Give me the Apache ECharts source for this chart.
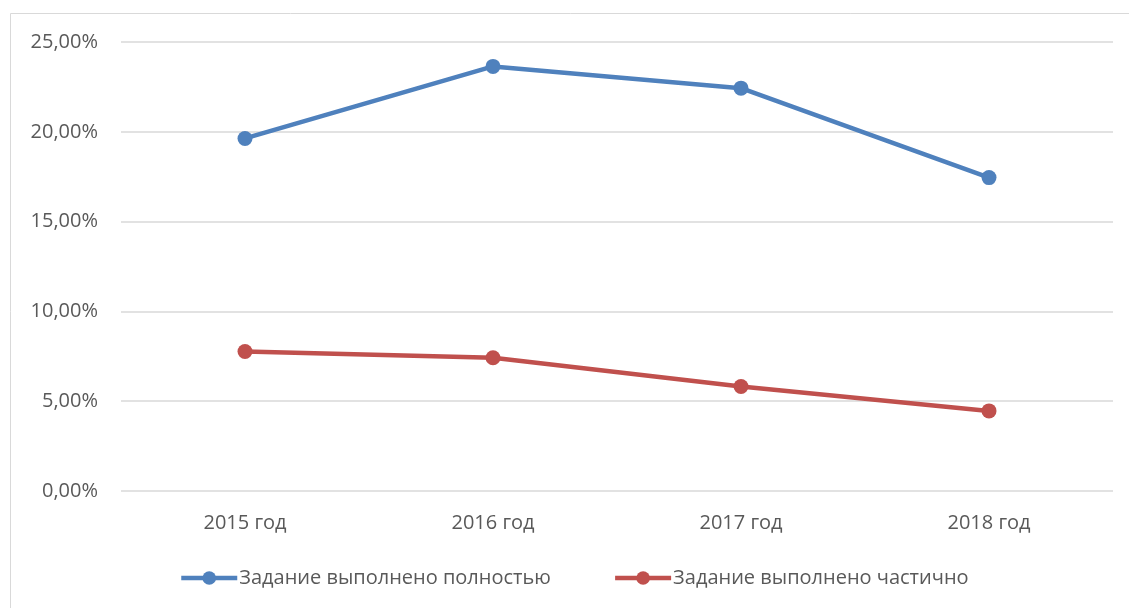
<!DOCTYPE html>
<html>
<head>
<meta charset="utf-8">
<script src="https://cdn.jsdelivr.net/npm/echarts@6/dist/echarts.min.js"></script>
<style>
  html, body { margin: 0; padding: 0; background: #fff; }
  #chart { width: 1129px; height: 608px; }
</style>
</head>
<body>
<div id="chart"></div>
<script>
// данные
var years = ['2015 год', '2016 год', '2017 год', '2018 год'];
var fullDone = [19.63, 23.64, 22.43, 17.45];
var partDone = [7.77, 7.42, 5.82, 4.46];
var seriesNames = ['Задание выполнено полностью', 'Задание выполнено частично'];

var chart = echarts.init(document.getElementById('chart'));
var font = '"Open Sans", "Noto Sans", sans-serif';

function pct(v) {
  return v.toFixed(2).replace('.', ',') + '%';
}

var option = {
  animation: false,
  graphic: [{
    type: 'rect',
    shape: { x: 10.5, y: 13.5, width: 1140, height: 620 },
    style: { fill: 'none', stroke: '#d9d9d9', lineWidth: 1 },
    silent: true
  }],
  grid: {
    left: 121,
    right: 16,
    top: 42,
    bottom: 117
  },
  legend: {
    top: 563,
    left: 174,
    itemWidth: 56,
    itemHeight: 17,
    itemGap: 62,
    lineStyle: { width: 4.5 },
    textStyle: { fontFamily: font, fontSize: 20, color: '#595959', padding: [0, 0, 0, -3] }
  },
  xAxis: {
    type: 'category',
    data: years,
    boundaryGap: true,
    axisLine: { show: false },
    axisTick: { show: false },
    axisLabel: { fontFamily: font, fontSize: 20, color: '#595959', margin: 22 }
  },
  yAxis: {
    type: 'value',
    min: 0,
    max: 25,
    interval: 5,
    axisLine: { show: false },
    axisTick: { show: false },
    splitLine: { lineStyle: { color: '#d9d9d9', width: 1.5 } },
    axisLabel: {
      fontFamily: font, fontSize: 20, color: '#595959', margin: 23,
      formatter: pct
    }
  },
  series: [
    {
      name: seriesNames[0],
      type: 'line',
      data: fullDone,
      symbol: 'circle',
      symbolSize: 15,
      itemStyle: { color: '#4f81bd' },
      lineStyle: { color: '#4f81bd', width: 4.5 }
    },
    {
      name: seriesNames[1],
      type: 'line',
      data: partDone,
      symbol: 'circle',
      symbolSize: 15,
      itemStyle: { color: '#c0504d' },
      lineStyle: { color: '#c0504d', width: 4.5 }
    }
  ]
};

chart.setOption(option);
</script>
</body>
</html>
